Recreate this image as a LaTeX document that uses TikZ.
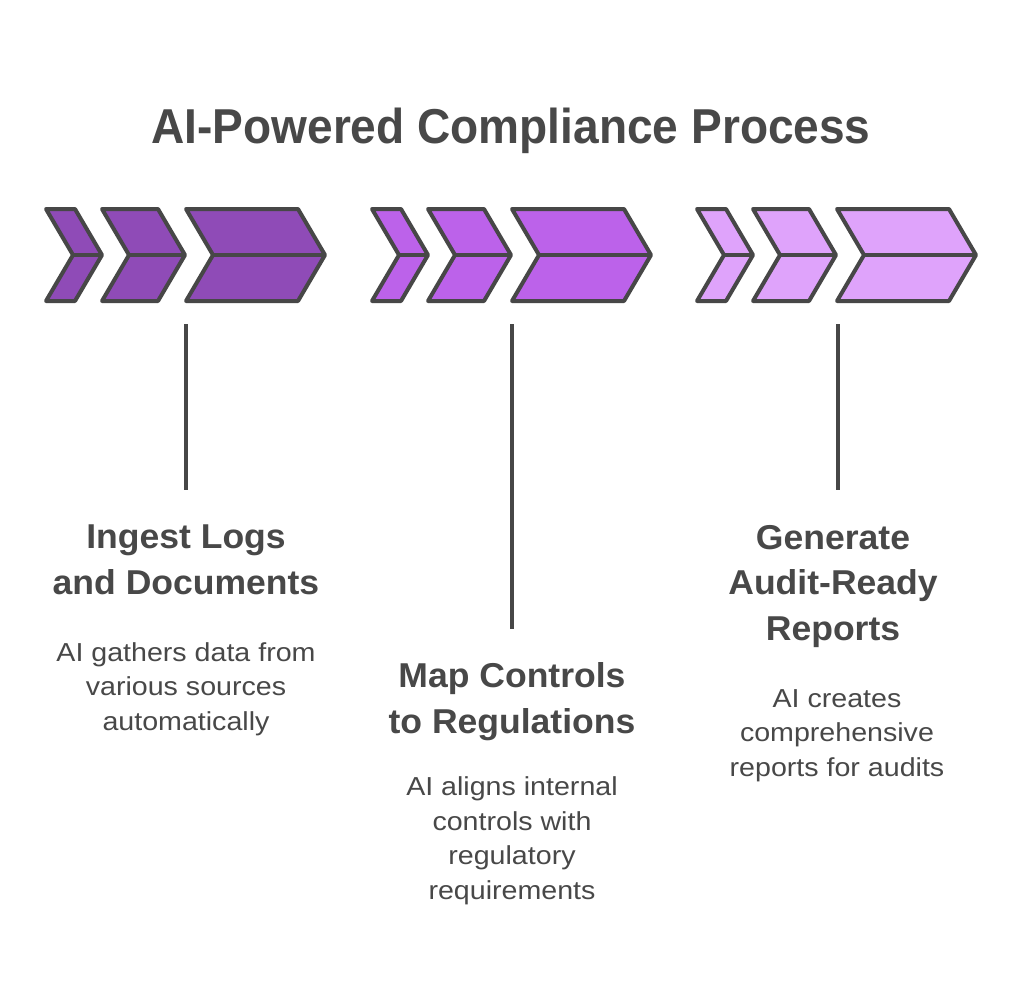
\documentclass[tikz,border=0pt]{standalone}
\usepackage{fontspec}
\setmainfont{Liberation Sans}
\newfontfamily\titlefont[FakeStretch=0.94]{Liberation Sans}
\newfontfamily\headfont[FakeStretch=1.03]{Liberation Sans}
\newfontfamily\descfont[FakeStretch=1.1]{Liberation Sans}
\definecolor{pA}{RGB}{143,75,183}
\definecolor{pB}{RGB}{188,98,234}
\definecolor{pC}{RGB}{223,163,251}
\definecolor{edge}{RGB}{71,71,71}
\definecolor{ink}{RGB}{72,72,72}
\newcommand{\chevshape}[3]{%
  \draw[chev, fill=#3] (#1,209) -- ++(#2,0) -- ++(27,46) -- ++(-27,46) -- ++(-#2,0) -- ++(27,-46) -- cycle;
  \draw[chev] (#1+27,255) -- ++(#2,0);
}
\begin{document}
\begin{tikzpicture}[x=1pt,y=-1pt,
  chev/.style={draw=edge, line width=4pt, line join=round},
  stem/.style={draw=edge, line width=4pt},
  titletext/.style={text=ink, font=\titlefont\fontsize{49}{55}\selectfont\bfseries, inner sep=0pt},
  headtext/.style={text=ink, font=\headfont\fontsize{34.5}{45.5}\selectfont\bfseries, align=center, inner sep=0pt},
  desctext/.style={text=ink, font=\descfont\fontsize{26}{34.5}\selectfont, align=center, inner sep=0pt}]
\useasboundingbox (0,0) rectangle (1024,1001);
\fill[white] (0,0) rectangle (1024,1001);
\node[titletext, anchor=base] (title) at (511,143) {AI-Powered Compliance Process};
\foreach \o/\c in {0/pA, 326/pB, 651/pC}{
  \chevshape{46+\o}{29}{\c}
  \chevshape{102+\o}{56}{\c}
  \chevshape{186+\o}{112}{\c}
}
\coordinate (s1) at (186,324);
\coordinate (s2) at (512,324);
\coordinate (s3) at (838,324);
\coordinate (e1) at (186,490);
\coordinate (e2) at (512,629);
\coordinate (e3) at (838,490);
\draw[stem] (s1) -- (e1);
\draw[stem] (s2) -- (e2);
\draw[stem] (s3) -- (e3);
% anchor=base is the baseline of the last line
\node[headtext, anchor=base] (h1) at (186,594) {Ingest Logs\\and Documents};
\node[desctext, anchor=base] (d1) at (186,730) {AI gathers data from\\various sources\\automatically};
\node[headtext, anchor=base] (h2) at (512,733) {Map Controls\\to Regulations};
\node[desctext, anchor=base] (d2) at (512,899) {AI aligns internal\\controls with\\regulatory\\requirements};
\node[headtext, anchor=base] (h3) at (833,640) {Generate\\Audit-Ready\\Reports};
\node[desctext, anchor=base] (d3) at (837,776) {AI creates\\comprehensive\\reports for audits};
\end{tikzpicture}
\end{document}
